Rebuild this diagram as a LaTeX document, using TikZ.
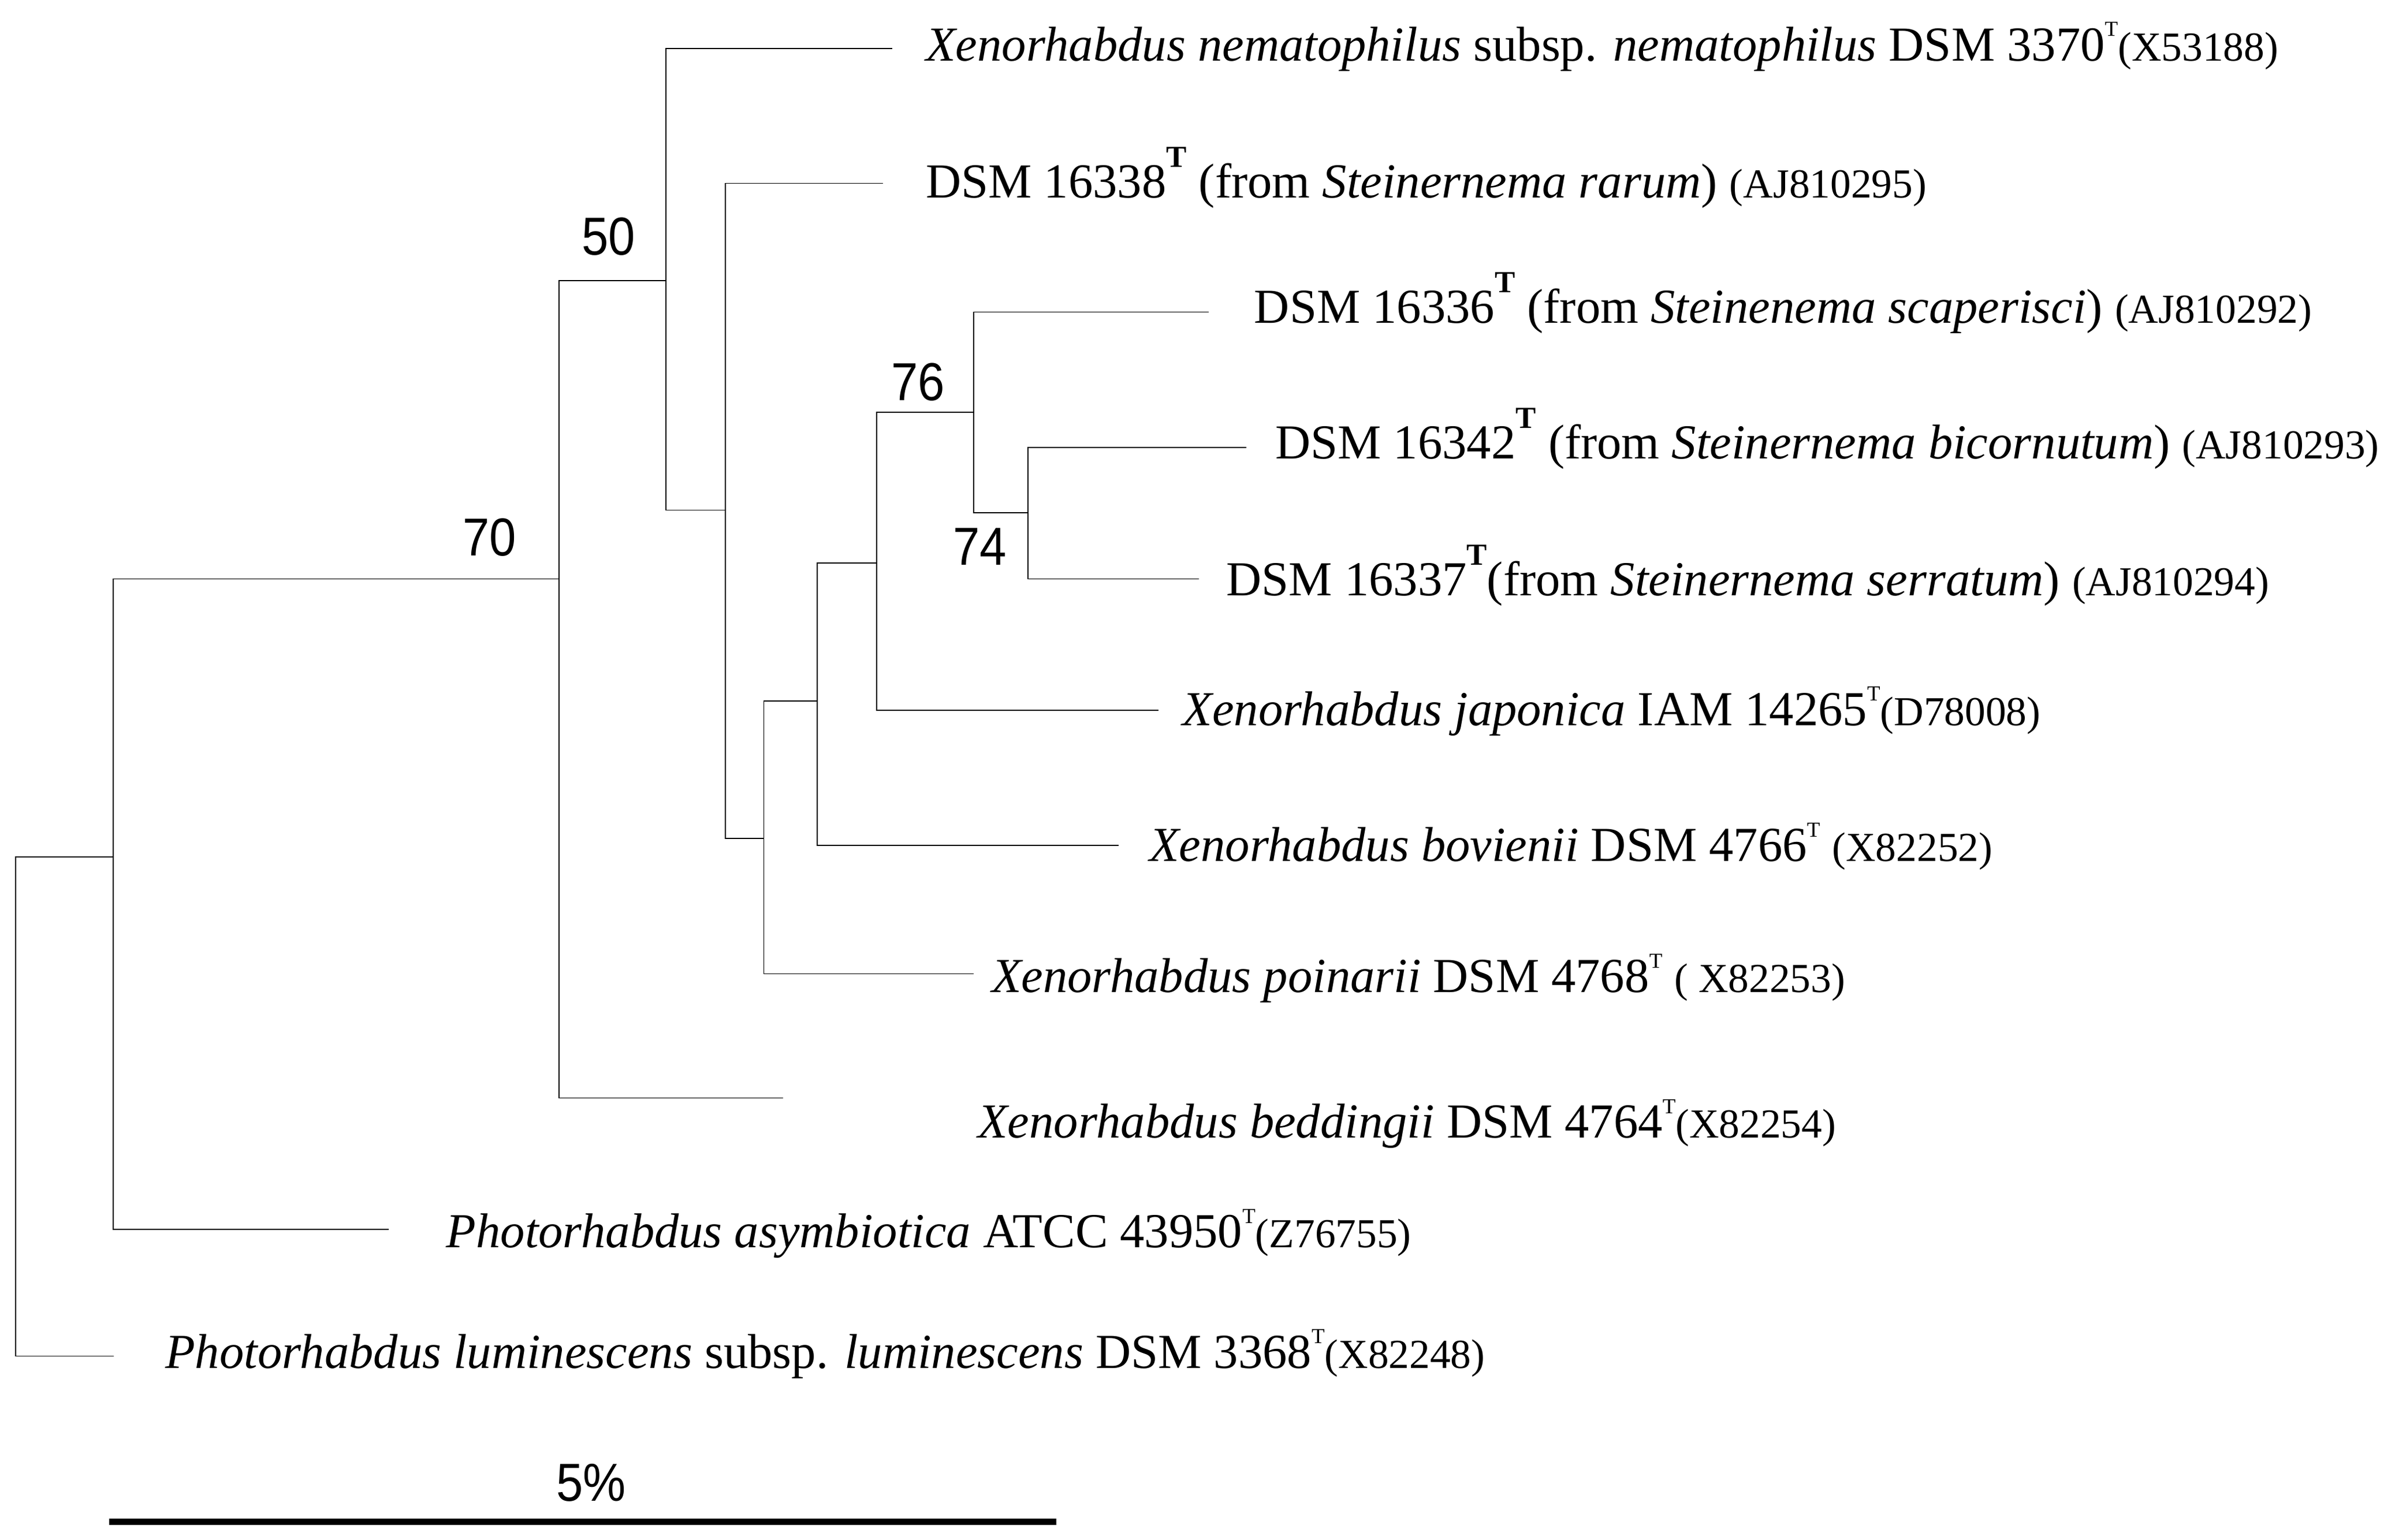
\documentclass[tikz,border=0pt]{standalone}
\usepackage{fontspec}
\setmainfont{Liberation Serif}
\newfontfamily\bsfont{Liberation Sans}
\newcommand{\accn}[1]{{\fontsize{27}{30}\selectfont #1}}
\newcommand{\supT}{\raisebox{16pt}{\fontsize{14}{14}\selectfont T}}
\newcommand{\supB}{\raisebox{20pt}{\fontsize{20}{20}\selectfont\bfseries T}}
\begin{document}
\begin{tikzpicture}[x=1pt,y=-1pt,
  br/.style={line width=0.6pt, line cap=rect},
  lab/.style={anchor=base west, inner sep=0pt, font=\fontsize{32}{36}\selectfont},
  boot/.style={anchor=center, inner sep=0pt, font=\bsfont\fontsize{35}{40}\selectfont, xscale=0.9},
  scalebar/.style={line width=4.2pt}]
\useasboundingbox (0,0) rectangle (1568,1008.4);
% internal nodes
\coordinate (R) at (10.1,724);
\coordinate (A) at (74,561);
\coordinate (B) at (366,379);
\coordinate (C) at (436,183.7);
\coordinate (D) at (475,334);
\coordinate (E) at (500,549);
\coordinate (F) at (535,459);
\coordinate (G) at (574,368.7);
\coordinate (H) at (637.5,270);
\coordinate (I) at (673,335.8);
% leaf ends
\coordinate (L1) at (584,31.7);
\coordinate (L2) at (578,120);
\coordinate (L3) at (791,204.4);
\coordinate (L4) at (815.6,293);
\coordinate (L5) at (784.6,379);
\coordinate (L6) at (758,465);
\coordinate (L7) at (732,553.5);
\coordinate (L8) at (637,637.6);
\coordinate (L9) at (512.5,719);
\coordinate (L10) at (254,805);
\coordinate (L11) at (74,888);
% branches
\draw[br] (R) |- (A);
\draw[br] (R) |- (L11);
\draw[br] (A) |- (B);
\draw[br] (A) |- (L10);
\draw[br] (B) |- (C);
\draw[br] (B) |- (L9);
\draw[br] (C) |- (L1);
\draw[br] (C) |- (D);
\draw[br] (D) |- (L2);
\draw[br] (D) |- (E);
\draw[br] (E) |- (F);
\draw[br] (E) |- (L8);
\draw[br] (F) |- (G);
\draw[br] (F) |- (L7);
\draw[br] (G) |- (H);
\draw[br] (G) |- (L6);
\draw[br] (H) |- (L3);
\draw[br] (H) |- (I);
\draw[br] (I) |- (L4);
\draw[br] (I) |- (L5);
% bootstrap values
\node[boot] (b50) at (398.5,155) {50};
\node[boot] (b70) at (320.5,352) {70};
\node[boot] (b76) at (601,250) {76};
\node[boot] (b74) at (641.6,358) {74};
% leaf labels
\node[lab] (t1) at (606,39.8) {\textit{Xenorhabdus nematophilus} subsp. \textit{nematophilus} DSM 3370\supT\accn{(X53188)}};
\node[lab] (t2) at (606,129.5) {DSM 16338\supB\ (from \textit{Steinernema rarum}) \accn{(AJ810295)}};
\node[lab] (t3) at (821,211.6) {DSM 16336\supB\ (from \textit{Steinenema scaperisci}) \accn{(AJ810292)}};
\node[lab] (t4) at (834.8,300.3) {DSM 16342\supB\ (from \textit{Steinernema bicornutum}) \accn{(AJ810293)}};
\node[lab] (t5) at (802.7,390) {DSM 16337\supB(from \textit{Steinernema serratum}) \accn{(AJ810294)}};
\node[lab] (t6) at (774,475) {\textit{Xenorhabdus japonica} IAM 14265\supT\accn{(D78008)}};
\node[lab] (t7) at (752.3,564) {\textit{Xenorhabdus bovienii} DSM 4766\supT\ \accn{(X82252)}};
\node[lab] (t8) at (649,649.8) {\textit{Xenorhabdus poinarii} DSM 4768\supT\ \accn{( X82253)}};
\node[lab] (t9) at (640,745) {\textit{Xenorhabdus beddingii} DSM 4764\supT\accn{(X82254)}};
\node[lab] (t10) at (292,817) {\textit{Photorhabdus asymbiotica} ATCC 43950\supT\accn{(Z76755)}};
\node[lab] (t11) at (108,895.8) {\textit{Photorhabdus luminescens} subsp. \textit{luminescens} DSM 3368\supT\accn{(X82248)}};
% scale bar
\coordinate (sbL) at (71.4,996.6);
\coordinate (sbR) at (691.7,996.6);
\draw[scalebar] (sbL) -- (sbR);
\node[boot] (sbt) at (387,971) {5\%};
\end{tikzpicture}
\end{document}
